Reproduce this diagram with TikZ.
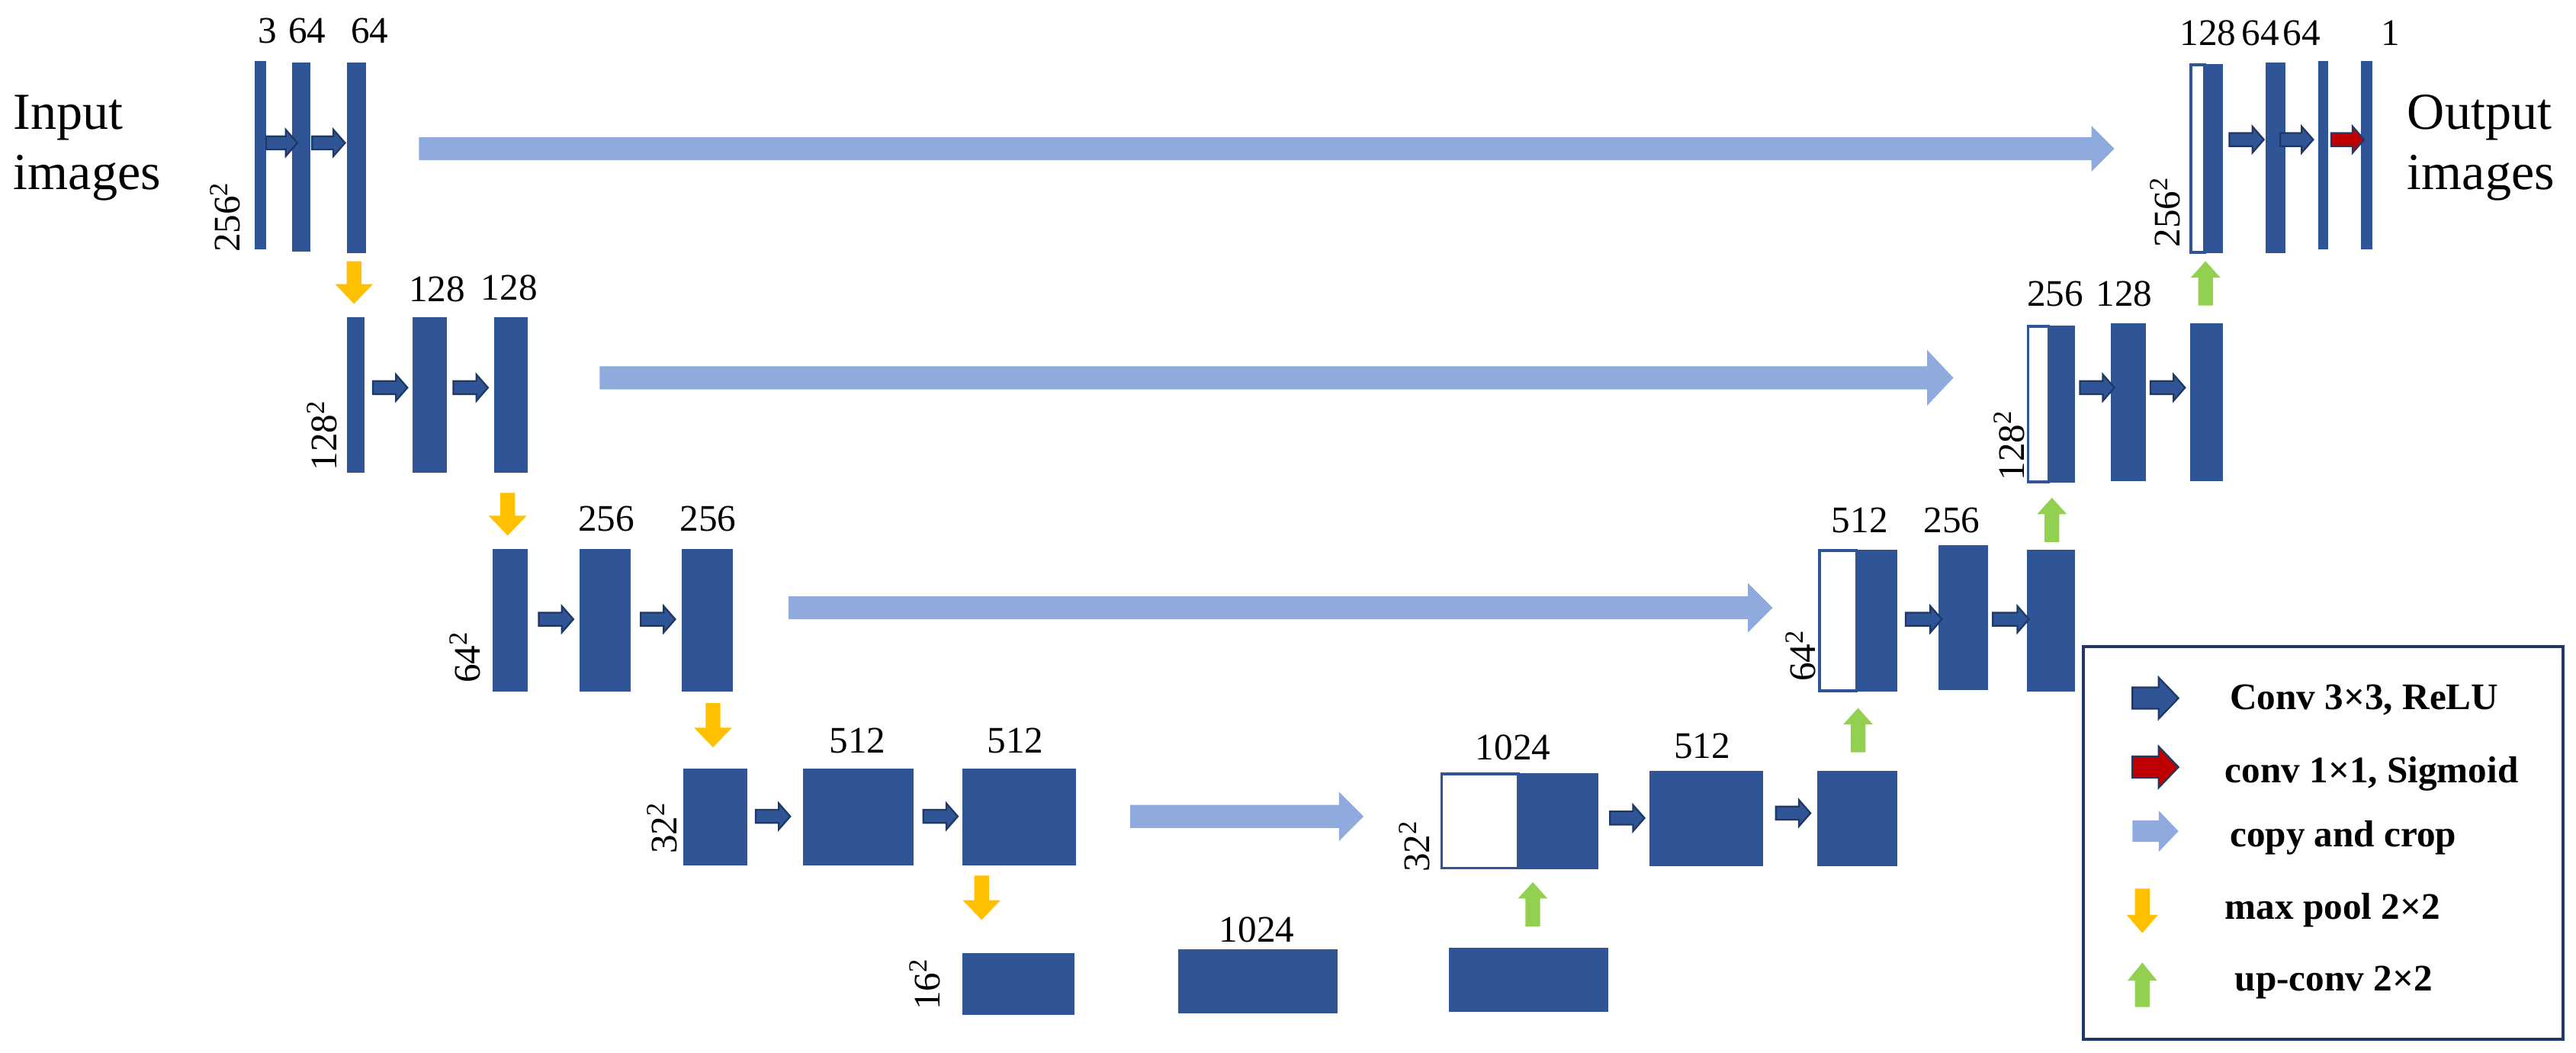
\documentclass[tikz,border=0pt]{standalone}
\usepackage{fontspec}
\setmainfont{Liberation Serif}
\definecolor{barblue}{HTML}{2F5597}
\definecolor{darkout}{HTML}{1F3864}
\definecolor{copyblue}{HTML}{8FAADC}
\definecolor{poolyel}{HTML}{FFC000}
\definecolor{upgreen}{HTML}{92D050}
\definecolor{sigred}{HTML}{C00000}
\newcommand\harr[7]{\filldraw[#1] (#2,{#4-#5}) -- ({#3-#7},{#4-#5}) -- ({#3-#7},{#4-#6}) -- (#3,#4) -- ({#3-#7},{#4+#6}) -- ({#3-#7},{#4+#5}) -- (#2,{#4+#5}) -- cycle;}
\newcommand\varr[7]{\filldraw[#1] ({#2-#5},#3) -- ({#2-#5},{#4-#7}) -- ({#2-#6},{#4-#7}) -- (#2,#4) -- ({#2+#6},{#4-#7}) -- ({#2+#5},{#4-#7}) -- ({#2+#5},#3) -- cycle;}
\tikzset{
  bar/.style={fill=barblue},
  convA/.style={fill=barblue,draw=darkout,line width=0.6pt},
  redA/.style={fill=sigred,draw=darkout,line width=0.6pt},
  copyA/.style={fill=copyblue,draw=none},
  poolA/.style={fill=poolyel,draw=none},
  upA/.style={fill=upgreen,draw=none},
  num/.style={font=\fontsize{13}{15}\selectfont,inner sep=0pt},
  big/.style={font=\fontsize{18}{21}\selectfont,align=left,inner sep=0pt},
  leg/.style={font=\fontsize{13}{15}\selectfont\bfseries,inner sep=0pt,anchor=west},
}
\begin{document}
\begin{tikzpicture}[x=0.02cm,y=-0.02cm]
\useasboundingbox (0,0) rectangle (1568,641);
% ---------- row 1 left
\fill[bar] (155,37) rectangle (162,152);
\fill[bar] (178,38) rectangle (189,153);
\fill[bar] (211,38) rectangle (223,154);
\harr{convA}{162}{181}{87}{4}{8}{7}
\harr{convA}{190}{210}{87}{4}{8}{7}
\node[num] (l1a) at (163,19) {3};
\node[num] (l1b) at (187,19) {64};
\node[num] (l1c) at (225,19) {64};
\node[num,rotate=90] (s1) at (137,132) {256\textsuperscript{2}};
\node[big,anchor=west] (inp) at (8,90) {Input\\images};
\harr{copyA}{255}{1287}{90.5}{7}{14}{14}
\varr{poolA}{215.5}{159}{185}{4.5}{11.5}{12}
% ---------- row 2 left
\fill[bar] (211,193) rectangle (222,288);
\fill[bar] (251,193) rectangle (272,288);
\fill[bar] (301,193) rectangle (321,288);
\harr{convA}{227}{248}{236}{4}{8}{7}
\harr{convA}{276}{297}{236}{4}{8}{7}
\node[num] (l2a) at (266,176) {128};
\node[num] (l2b) at (310,175) {128};
\node[num,rotate=90] (s2) at (196,265) {128\textsuperscript{2}};
\harr{copyA}{365}{1189}{230}{7}{17}{16}
\varr{poolA}{309}{300}{326}{4.5}{11.5}{12}
% ---------- row 3 left
\fill[bar] (300,334) rectangle (321,421);
\fill[bar] (353,334) rectangle (384,421);
\fill[bar] (415,334) rectangle (446,421);
\harr{convA}{328}{349}{377}{4}{8}{7}
\harr{convA}{390}{411}{377}{4}{8}{7}
\node[num] (l3a) at (369,316) {256};
\node[num] (l3b) at (431,316) {256};
\node[num,rotate=90] (s3) at (283,400) {64\textsuperscript{2}};
\harr{copyA}{480}{1079}{370}{7}{15}{15}
\varr{poolA}{434}{428}{455}{4.5}{11.5}{12}
% ---------- row 4 left
\fill[bar] (416,468) rectangle (455,527);
\fill[bar] (489,468) rectangle (556,527);
\fill[bar] (586,468) rectangle (655,527);
\harr{convA}{460}{481}{497}{4}{8}{7}
\harr{convA}{562}{583}{497}{4}{8}{7}
\node[num] (l4a) at (522,451) {512};
\node[num] (l4b) at (618,451) {512};
\node[num,rotate=90] (s4) at (403,504) {32\textsuperscript{2}};
\harr{copyA}{688}{830}{497}{7}{15}{15}
\varr{poolA}{597.5}{533}{560}{4.5}{11.5}{12}
% ---------- row 5
\fill[bar] (586,580) rectangle (654,618);
\fill[bar] (717,578) rectangle (814,617);
\fill[bar] (882,577) rectangle (979,616);
\node[num] (l5) at (765,566) {1024};
\node[num,rotate=90] (s5) at (563,599) {16\textsuperscript{2}};
\varr{upA}{933}{564}{537}{4.5}{9}{-10}
% ---------- row 4 right
\fill[bar] (877,470.5) rectangle (973,529);
\filldraw[fill=white,draw=barblue,line width=1pt] (877.5,471) rectangle (924,528.5);
\fill[bar] (1004,469.5) rectangle (1073,527.5);
\fill[bar] (1106,469.5) rectangle (1155,527.5);
\harr{convA}{980}{1001}{498}{4}{8}{7}
\harr{convA}{1081}{1102}{495}{4}{8}{7}
\node[num] (r4a) at (921,455) {1024};
\node[num] (r4b) at (1036,454) {512};
\node[num,rotate=90] (t4) at (861,515) {32\textsuperscript{2}};
\varr{upA}{1131}{458}{431}{4.5}{9}{-10}
% ---------- row 3 right
\fill[bar] (1107,334.5) rectangle (1155,421);
\filldraw[fill=white,draw=barblue,line width=1pt] (1107.5,335) rectangle (1130,420.5);
\fill[bar] (1180,332) rectangle (1210,420);
\fill[bar] (1234,334.5) rectangle (1263,421);
\harr{convA}{1160}{1182}{377}{4}{8}{7}
\harr{convA}{1213}{1235}{377}{4}{8}{7}
\node[num] (r3a) at (1132,317) {512};
\node[num] (r3b) at (1188,317) {256};
\node[num,rotate=90] (t3) at (1096,399) {64\textsuperscript{2}};
\varr{upA}{1249}{330}{303}{4.5}{9}{-10}
% ---------- row 2 right
\fill[bar] (1234,198) rectangle (1263,294);
\filldraw[fill=white,draw=barblue,line width=1pt] (1234.5,198.5) rectangle (1247,293.5);
\fill[bar] (1285,197) rectangle (1306,293);
\fill[bar] (1333,197) rectangle (1353,293);
\harr{convA}{1266}{1287}{236}{4}{8}{7}
\harr{convA}{1309}{1330}{236}{4}{8}{7}
\node[num] (r2a) at (1251,179) {256};
\node[num] (r2b) at (1293,179) {128};
\node[num,rotate=90] (t2) at (1223,271) {128\textsuperscript{2}};
\varr{upA}{1342.5}{186}{159}{4.5}{9}{-10}
% ---------- row 1 right
\fill[bar] (1333,39) rectangle (1353,154);
\filldraw[fill=white,draw=barblue,line width=1pt] (1333.5,39.5) rectangle (1342,153.5);
\fill[bar] (1379,38) rectangle (1391,154);
\fill[bar] (1411,37) rectangle (1417,152);
\fill[bar] (1437,37) rectangle (1444,152);
\harr{convA}{1357}{1378}{85}{4}{8}{7}
\harr{convA}{1388}{1408}{85}{4}{8}{7}
\harr{redA}{1419}{1439}{85}{4}{8}{7}
\node[num] (r1a) at (1344,20) {128};
\node[num] (r1b) at (1376,20) {64};
\node[num] (r1c) at (1401,20) {64};
\node[num] (r1d) at (1455,20) {1};
\node[num,rotate=90] (t1) at (1318,129) {256\textsuperscript{2}};
\node[big,anchor=west] (outp) at (1465,90) {Output\\images};
% ---------- legend
\draw[darkout,line width=1pt] (1268,393.5) rectangle (1560,632.5);
\harr{convA}{1298}{1326}{425}{6.5}{12.5}{12}
\harr{redA}{1298}{1326}{467}{6.5}{12.5}{12}
\harr{copyA}{1298}{1326}{506}{6.5}{12.5}{12}
\varr{poolA}{1304}{541}{568}{4.5}{9.5}{11}
\varr{upA}{1304}{613}{586}{4.5}{9}{-11}
\node[leg] (g1) at (1357,426) {Conv 3×3, ReLU};
\node[leg] (g2) at (1354,471) {conv 1×1, Sigmoid};
\node[leg] (g3) at (1357,510) {copy and crop};
\node[leg] (g4) at (1354,554) {max pool 2×2};
\node[leg] (g5) at (1360,598) {up-conv 2×2};
\end{tikzpicture}
\end{document}
